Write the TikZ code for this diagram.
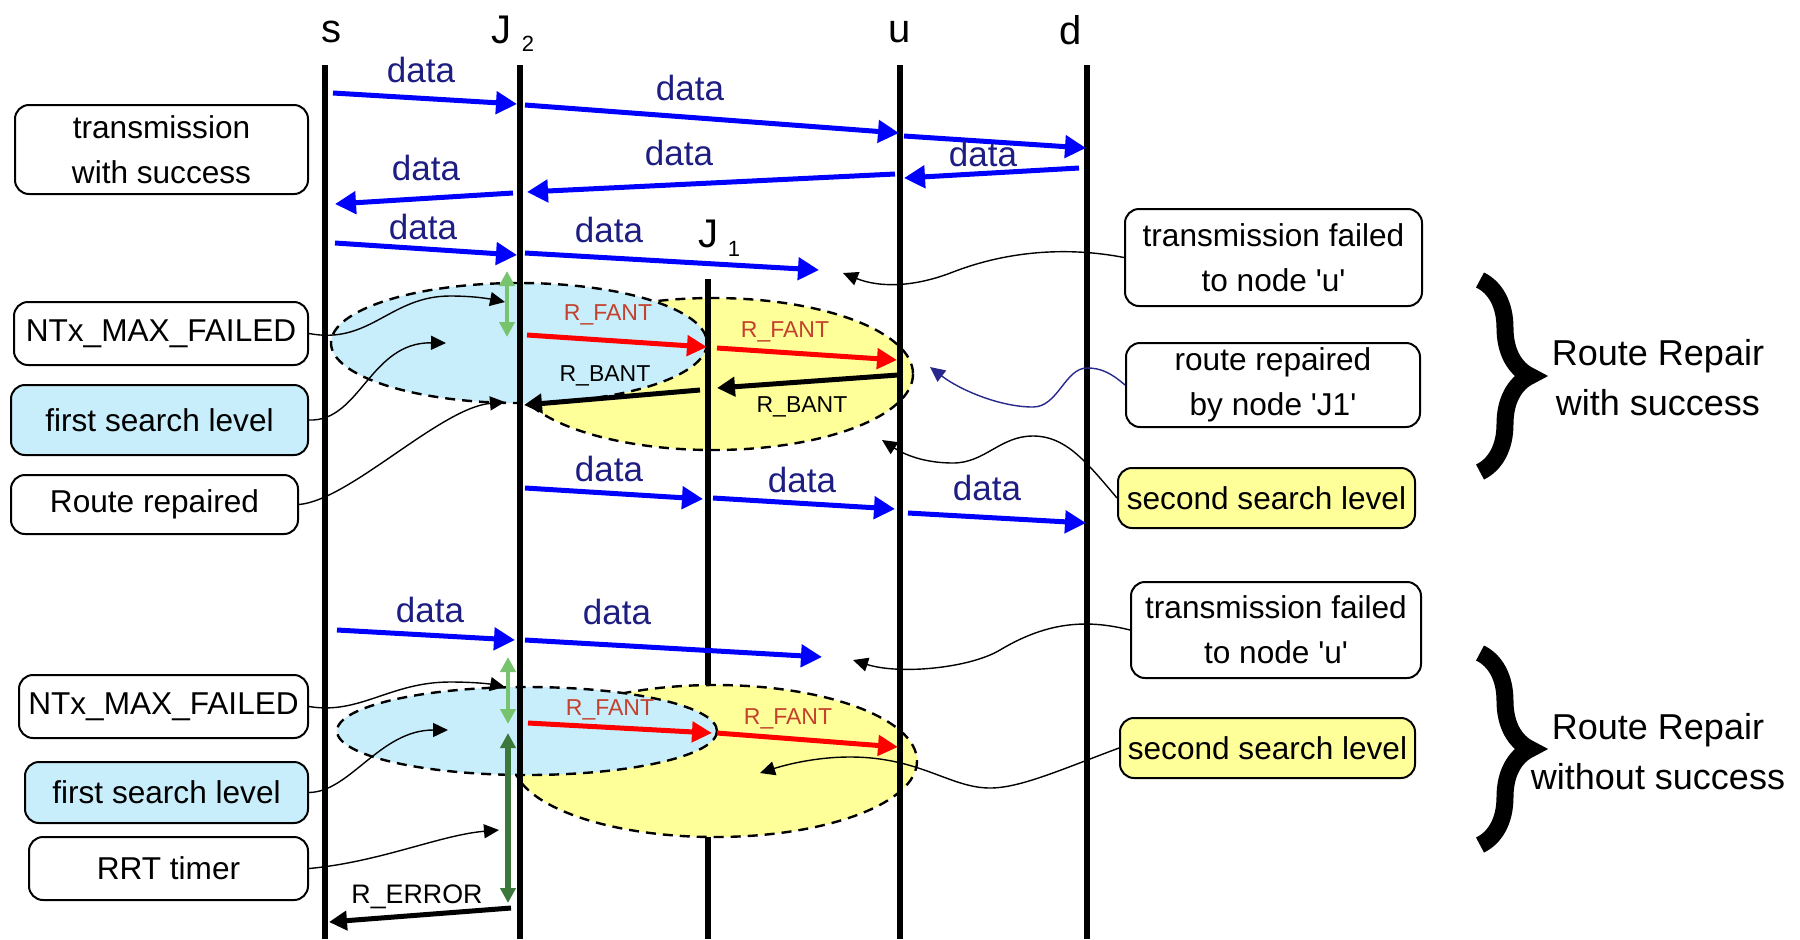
\documentclass[tikz,border=0pt]{standalone}
\usepackage{fontspec}
\setmainfont{Liberation Sans}
\usetikzlibrary{arrows.meta,decorations.pathreplacing}

\definecolor{msgblue}{RGB}{0,0,255}
\definecolor{msgtext}{RGB}{30,30,130}
\definecolor{fantred}{RGB}{255,0,0}
\definecolor{fanttext}{RGB}{195,65,45}
\definecolor{levelone}{RGB}{200,238,252}
\definecolor{leveltwo}{RGB}{255,255,153}
\definecolor{timerlight}{RGB}{120,195,110}
\definecolor{timerdark}{RGB}{60,120,60}
\definecolor{repairnavy}{RGB}{40,40,140}

\tikzset{every picture/.style={line width=0.75pt},
  lane/.style={line width=2.6pt},
  msg/.style={draw=msgblue, line width=2.5pt, -{Triangle[length=10.5pt,width=11pt]}},
  fant/.style={draw=fantred, line width=2.5pt, -{Triangle[length=10pt,width=10pt]}},
  bant/.style={draw=black, line width=2.5pt, -{Triangle[length=9pt,width=9.5pt]}},
  msglbl/.style={text=msgtext, inner sep=0pt, font=\fontsize{17.5}{20}\selectfont},
  ctllbl/.style={inner sep=0pt, font=\fontsize{11.5}{13}\selectfont},
  hdr/.style={inner sep=0pt, font=\fontsize{20}{24}\selectfont},
  hdrsub/.style={inner sep=0pt, font=\fontsize{11}{13}\selectfont},
  note/.style={draw, line width=1pt, rounded corners=7pt, align=center, inner sep=0pt, font=\fontsize{15.8}{22.5}\selectfont},
  callout/.style={line width=0.7pt, -{Triangle[length=7.5pt,width=7pt]}},
  zone/.style={draw, dash pattern={on 5pt off 3.5pt}, line width=1.2pt},
  timer/.style={line width=2pt, {Triangle[length=7.5pt,width=7.5pt]}-{Triangle[length=7.5pt,width=7.5pt]}},
  curly/.style={decorate, decoration={brace, amplitude=25pt}, line width=8.5pt},
}

\begin{document}
\begin{tikzpicture}[x=0.5pt,y=0.5pt,yscale=-1,xscale=1]
		\useasboundingbox (0,0) rectangle (1800,939);
		
		%Shape: Ellipse [search levels, repair with success]
		\draw [zone, fill=leveltwo] (713,374) ellipse [x radius=200, y radius=76];
		\draw [zone, fill=levelone] (519,343) ellipse [x radius=188, y radius=60];
		
		%Straight Lines [lane J1]
		\coordinate (J1T) at (708,279);
		\coordinate (J1B) at (708,939);
		\draw [lane] (J1T) -- (J1B);
		
		%Shape: Ellipse [search levels, repair without success]
		\draw [zone, fill=leveltwo] (715,761) ellipse [x radius=202, y radius=76];
		\draw [zone, fill=levelone] (527,731) ellipse [x radius=190, y radius=44];
		
		%Straight Lines [lanes s, J2, u, d]
		\coordinate (sT) at (325,65);   \coordinate (sB) at (325,939);
		\coordinate (J2T) at (520,65);  \coordinate (J2B) at (520,939);
		\coordinate (uT) at (900,65);   \coordinate (uB) at (900,939);
		\coordinate (dT) at (1087,65);  \coordinate (dB) at (1087,939);
		\draw [lane] (sT) -- (sB);
		\draw [lane] (J2T) -- (J2B);
		\draw [lane] (uT) -- (uB);
		\draw [lane] (dT) -- (dB);
		
		% Text Node
		\node [hdr] (hs) at (331,32) {s};
		\node [hdr] (hJ2) at (501,30) {J};
		\node [hdrsub] (hJ2sub) at (528,44) {2};
		\node [hdr] (hu) at (900,32) {u};
		\node [hdr] (hd) at (1071,30) {d};
		\node [hdr] (hJ1) at (708,234) {J};
		\node [hdrsub] (hJ1sub) at (734,249) {1};
		
		%Straight Lines [data packets]
		\coordinate (m1s) at (333,93);    \coordinate (m1e) at (517,104);
		\coordinate (m2s) at (525,105);   \coordinate (m2e) at (899,133);
		\coordinate (m3s) at (904,136);   \coordinate (m3e) at (1086,148);
		\coordinate (m4s) at (1079,168);  \coordinate (m4e) at (904,178);
		\coordinate (m5s) at (895,174);   \coordinate (m5e) at (527,192);
		\coordinate (m6s) at (513,193);   \coordinate (m6e) at (335,204);
		\coordinate (m7s) at (335,243);   \coordinate (m7e) at (517,255);
		\coordinate (m8s) at (525,253);   \coordinate (m8e) at (819,270);
		\coordinate (m9s) at (525,488);   \coordinate (m9e) at (703,499);
		\coordinate (m10s) at (713,498);  \coordinate (m10e) at (895,509);
		\coordinate (m11s) at (908,513);  \coordinate (m11e) at (1086,523);
		\coordinate (m12s) at (337,630);  \coordinate (m12e) at (515,640);
		\coordinate (m13s) at (525,640);  \coordinate (m13e) at (822,657);
		\draw [msg] (m1s) -- (m1e);
		\draw [msg] (m2s) -- (m2e);
		\draw [msg] (m3s) -- (m3e);
		\draw [msg] (m4s) -- (m4e);
		\draw [msg] (m5s) -- (m5e);
		\draw [msg] (m6s) -- (m6e);
		\draw [msg] (m7s) -- (m7e);
		\draw [msg] (m8s) -- (m8e);
		\draw [msg] (m9s) -- (m9e);
		\draw [msg] (m10s) -- (m10e);
		\draw [msg] (m11s) -- (m11e);
		\draw [msg] (m12s) -- (m12e);
		\draw [msg] (m13s) -- (m13e);
		
		% Text Node
		\node [msglbl] (t1) at (421,70) {data};
		\node [msglbl] (t2) at (690,88) {data};
		\node [msglbl] (t4) at (983,154) {data};
		\node [msglbl] (t5) at (679,153) {data};
		\node [msglbl] (t6) at (426,168) {data};
		\node [msglbl] (t7) at (423,227) {data};
		\node [msglbl] (t8) at (609,230) {data};
		\node [msglbl] (t9) at (609,469) {data};
		\node [msglbl] (t10) at (802,480) {data};
		\node [msglbl] (t11) at (987,488) {data};
		\node [msglbl] (t12) at (430,610) {data};
		\node [msglbl] (t13) at (617,612) {data};
		
		%Straight Lines [route requests and replies]
		\coordinate (f1s) at (527,335);  \coordinate (f1e) at (707,347);
		\coordinate (f2s) at (717,348);  \coordinate (f2e) at (897,360);
		\coordinate (f3s) at (528,723);  \coordinate (f3e) at (712,733);
		\coordinate (f4s) at (717,733);  \coordinate (f4e) at (898,747);
		\coordinate (b1s) at (700,390);  \coordinate (b1e) at (524,405);
		\coordinate (b2s) at (898,375);  \coordinate (b2e) at (717,388);
		\coordinate (ers) at (511,908);  \coordinate (ere) at (329,922);
		\draw [fant] (f1s) -- (f1e);
		\draw [fant] (f2s) -- (f2e);
		\draw [fant] (f3s) -- (f3e);
		\draw [fant] (f4s) -- (f4e);
		\draw [bant] (b1s) -- (b1e);
		\draw [bant] (b2s) -- (b2e);
		\draw [bant] (ers) -- (ere);
		
		% Text Node
		\node [ctllbl, text=fanttext] (f1) at (608,315) {R\_FANT};
		\node [ctllbl, text=fanttext] (f2) at (785,332) {R\_FANT};
		\node [ctllbl, text=fanttext] (f3) at (610,710) {R\_FANT};
		\node [ctllbl, text=fanttext] (f4) at (788,719) {R\_FANT};
		\node [ctllbl] (b1) at (605,376) {R\_BANT};
		\node [ctllbl] (b2) at (802,407) {R\_BANT};
		\node [inner sep=0pt, font=\fontsize{13.4}{15}\selectfont] (er) at (417,897) {R\_ERROR};
		
		%Straight Lines [timers at J2]
		\coordinate (g1a) at (507,271);  \coordinate (g1b) at (507,337);
		\coordinate (g2a) at (508,657);  \coordinate (g2b) at (508,724);
		\coordinate (g3a) at (508,733);  \coordinate (g3b) at (508,903);
		\draw [timer, timerlight] (g1a) -- (g1b);
		\draw [timer, timerlight] (g2a) -- (g2b);
		\draw [timer, timerdark, line width=3pt] (g3a) -- (g3b);
		
		% Text Node [left notes]
		\node [note, minimum width=146.5pt, minimum height=44.5pt] (tws) at (161.5,149.5) {transmission\\ with success};
		\node [note, minimum width=147pt, minimum height=31.5pt] (ntx1) at (161,333.5) {NTx\_MAX\_FAILED};
		\node [note, fill=levelone, minimum width=148.5pt, minimum height=35pt] (fsl1) at (159.5,420) {first search level};
		\node [note, minimum width=143.5pt, minimum height=29.5pt] (rr) at (154.5,504.5) {Route repaired};
		\node [note, minimum width=144.5pt, minimum height=31.5pt] (ntx2) at (163.5,706.5) {NTx\_MAX\_FAILED};
		\node [note, fill=levelone, minimum width=141.5pt, minimum height=30.5pt] (fsl2) at (166.5,792.5) {first search level};
		\node [note, minimum width=139.5pt, minimum height=31.5pt] (rrt) at (168.5,868.5) {RRT timer};
		
		% Text Node [right notes]
		\node [note, minimum width=148.5pt, minimum height=48.5pt] (tf1) at (1273.5,257.5) {transmission failed\\ to node \textquotesingle u\textquotesingle};
		\node [note, minimum width=147pt, minimum height=42pt] (rrj) at (1273,385) {route repaired\\ by node \textquotesingle J1\textquotesingle};
		\node [note, fill=leveltwo, minimum width=148.5pt, minimum height=30pt] (ssl1) at (1266.5,498) {second search level};
		\node [note, minimum width=145pt, minimum height=48pt] (tf2) at (1276,630) {transmission failed\\ to node \textquotesingle u\textquotesingle};
		\node [note, fill=leveltwo, minimum width=147.5pt, minimum height=30pt] (ssl2) at (1267.5,748) {second search level};
		
		%Curve Lines [pointers from the notes]
		\coordinate (c1) at (505,302);
		\coordinate (c2) at (446,343);
		\coordinate (c3) at (505,402);
		\coordinate (c4) at (843,273);
		\coordinate (c5) at (930,367);
		\coordinate (c6) at (882,440);
		\coordinate (c7) at (853,660);
		\coordinate (c8) at (760,773);
		\coordinate (c9) at (505,687);
		\coordinate (c10) at (448,730);
		\coordinate (c11) at (499,830);
		\draw [callout] (ntx1.east) .. controls (370,345) and (390,296) .. (450,296) .. controls (475,296) and (490,299) .. (c1);
		\draw [callout] (fsl1.east) .. controls (360,422) and (370,342) .. (c2);
		\draw [callout] (rr.east) .. controls (350,500) and (440,408) .. (c3);
		\draw [callout] (tf1.west) .. controls (1070,247) and (1010,250) .. (953,272) .. controls (915,287) and (880,288) .. (c4);
		\draw [callout, repairnavy] (rrj.west) .. controls (1110,372) and (1100,368) .. (1087,368) .. controls (1065,368) and (1058,407) .. (1033,407) .. controls (1000,407) and (960,390) .. (c5);
		\draw [callout] (ssl1.west) .. controls (1085,460) and (1065,436) .. (1033,436) .. controls (1000,436) and (985,463) .. (953,463) .. controls (925,463) and (905,455) .. (c6);
		\draw [callout] (tf2.west) .. controls (1090,620) and (1050,620) .. (1000,650) .. controls (970,668) and (900,675) .. (c7);
		\draw [callout] (ssl2.west) .. controls (1060,770) and (1020,788) .. (990,788) .. controls (950,788) and (920,757) .. (850,757) .. controls (815,757) and (785,765) .. (c8);
		\draw [callout] (ntx2.east) .. controls (360,715) and (390,682) .. (450,682) .. controls (475,682) and (490,684) .. (c9);
		\draw [callout] (fsl2.east) .. controls (350,792) and (380,730) .. (c10);
		\draw [callout] (rrt.east) .. controls (380,862) and (440,835) .. (c11);
		
		%Braces
		\coordinate (br1a) at (1480,280);  \coordinate (br1b) at (1480,472);
		\coordinate (br2a) at (1480,653);  \coordinate (br2b) at (1480,845);
		\draw [curly] (br1a) -- (br1b);
		\draw [curly] (br2a) -- (br2b);
		
		% Text Node
		\node [inner sep=0pt, align=center, font=\fontsize{18}{25}\selectfont] (rep1) at (1658,378) {Route Repair\\ with success};
		\node [inner sep=0pt, align=center, font=\fontsize{18}{25}\selectfont] (rep2) at (1658,752) {Route Repair\\ without success};
		
\end{tikzpicture}
\end{document}
